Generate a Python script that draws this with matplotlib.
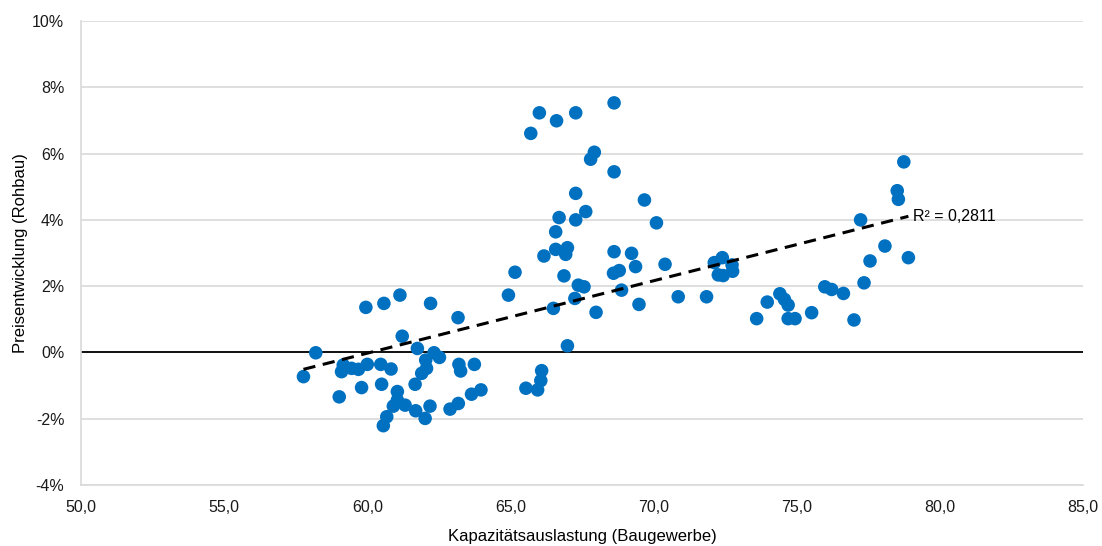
import numpy as np
import matplotlib.pyplot as plt
from matplotlib.ticker import FuncFormatter, MultipleLocator

plt.rcParams['font.family'] = ['Liberation Sans', 'DejaVu Sans']

# Kapazitätsauslastung (Baugewerbe) und Preisentwicklung Rohbau in %
auslastung = [
    57.77, 58.2, 59.95, 60.58, 61.14, 62.21, 63.17, 61.22, 61.75, 62.33,
    62.52, 62.04, 62.07, 61.9, 59.16, 59.1, 59.45, 59.69, 60.0, 60.47,
    60.83, 63.2, 63.26, 63.74, 59.02, 59.8, 60.5, 61.05, 61.67, 60.91,
    61.05, 61.32, 61.69, 62.02, 62.19, 62.89, 63.18, 63.64, 63.97, 60.68,
    60.56, 64.93, 65.16, 65.54, 65.95, 66.06, 66.09, 66.01, 65.71, 66.61,
    67.28, 68.62, 67.93, 67.8, 68.62, 69.68, 67.28, 67.63, 66.7, 67.28,
    70.1, 66.58, 66.58, 66.99, 66.93, 66.17, 68.62, 69.23, 69.37, 70.4,
    66.87, 68.6, 68.8, 67.37, 67.57, 68.88, 67.25, 66.5, 67.99, 69.49,
    70.86, 71.85, 66.99, 72.12, 72.4, 72.74, 72.26, 72.43, 72.76, 73.6,
    73.97, 74.41, 74.57, 74.7, 74.7, 74.94, 75.52, 75.98, 76.22, 76.63,
    77.0, 77.23, 77.35, 77.56, 78.08, 78.74, 78.51, 78.55, 78.9,
]
preis = [
    -0.73, -0.01, 1.36, 1.48, 1.73, 1.48, 1.05, 0.49, 0.12, -0.01,
    -0.15, -0.23, -0.48, -0.63, -0.38, -0.58, -0.48, -0.51, -0.36, -0.36,
    -0.5, -0.36, -0.56, -0.36, -1.34, -1.06, -0.96, -1.18, -0.96, -1.62,
    -1.44, -1.59, -1.76, -1.99, -1.62, -1.71, -1.54, -1.26, -1.13, -1.94,
    -2.21, 1.73, 2.42, -1.08, -1.13, -0.85, -0.55, 7.23, 6.61, 6.99,
    7.23, 7.53, 6.04, 5.83, 5.45, 4.6, 4.8, 4.25, 4.07, 4.0,
    3.91, 3.64, 3.11, 3.16, 2.96, 2.91, 3.04, 2.99, 2.59, 2.66,
    2.31, 2.39, 2.47, 2.03, 1.98, 1.88, 1.63, 1.33, 1.21, 1.45,
    1.68, 1.68, 0.2, 2.71, 2.86, 2.64, 2.34, 2.32, 2.45, 1.02,
    1.52, 1.77, 1.6, 1.43, 1.02, 1.02, 1.2, 1.98, 1.9, 1.78,
    0.98, 4.0, 2.1, 2.76, 3.21, 5.75, 4.88, 4.62, 2.86,
]
r2_text = 'R² = 0,2811'

x = np.array(auslastung)
y = np.array(preis)

fig = plt.figure(figsize=(11.02, 5.46), dpi=100)
ax = fig.add_axes([0.0735, 0.1117, 0.9093, 0.8498])

ax.set_xlim(50, 85)
ax.set_ylim(-4, 10)
ax.xaxis.set_major_locator(MultipleLocator(5))
ax.yaxis.set_major_locator(MultipleLocator(2))
ax.xaxis.set_major_formatter(FuncFormatter(lambda v, p: f'{v:.1f}'.replace('.', ',')))
ax.yaxis.set_major_formatter(FuncFormatter(lambda v, p: f'{v:.0f}%'))

ax.grid(axis='y', color='#d9d9d9', linewidth=1.2)
ax.set_axisbelow(True)
ax.axhline(0, color='black', linewidth=1.3, zorder=1)

for s in ['top', 'right']:
    ax.spines[s].set_visible(False)
for s in ['left', 'bottom']:
    ax.spines[s].set_color('#d9d9d9')
    ax.spines[s].set_linewidth(1.2)
ax.tick_params(length=0, labelsize=11.5, colors='#1a1a1a')
ax.tick_params(axis='x', pad=11)
ax.tick_params(axis='y', pad=12)

ax.scatter(x, y, s=95, color='#0070c0', edgecolors='none', zorder=3)

# lineare Trendlinie
k, d = np.polyfit(x, y, 1)
xs = np.array([x.min(), x.max()])
ax.plot(xs, k * xs + d, color='black', linestyle=(0, (4, 2.5)), linewidth=2.2, zorder=4)
ax.text(xs[1] + 0.15, k * xs[1] + d, r2_text, fontsize=11.5, va='center', ha='left', zorder=5)

ax.set_xlabel('Kapazitätsauslastung (Baugewerbe)', fontsize=12, labelpad=10)
ax.set_ylabel('Preisentwicklung (Rohbau)', fontsize=12, labelpad=3)

fig.savefig('out.png', dpi=100)
